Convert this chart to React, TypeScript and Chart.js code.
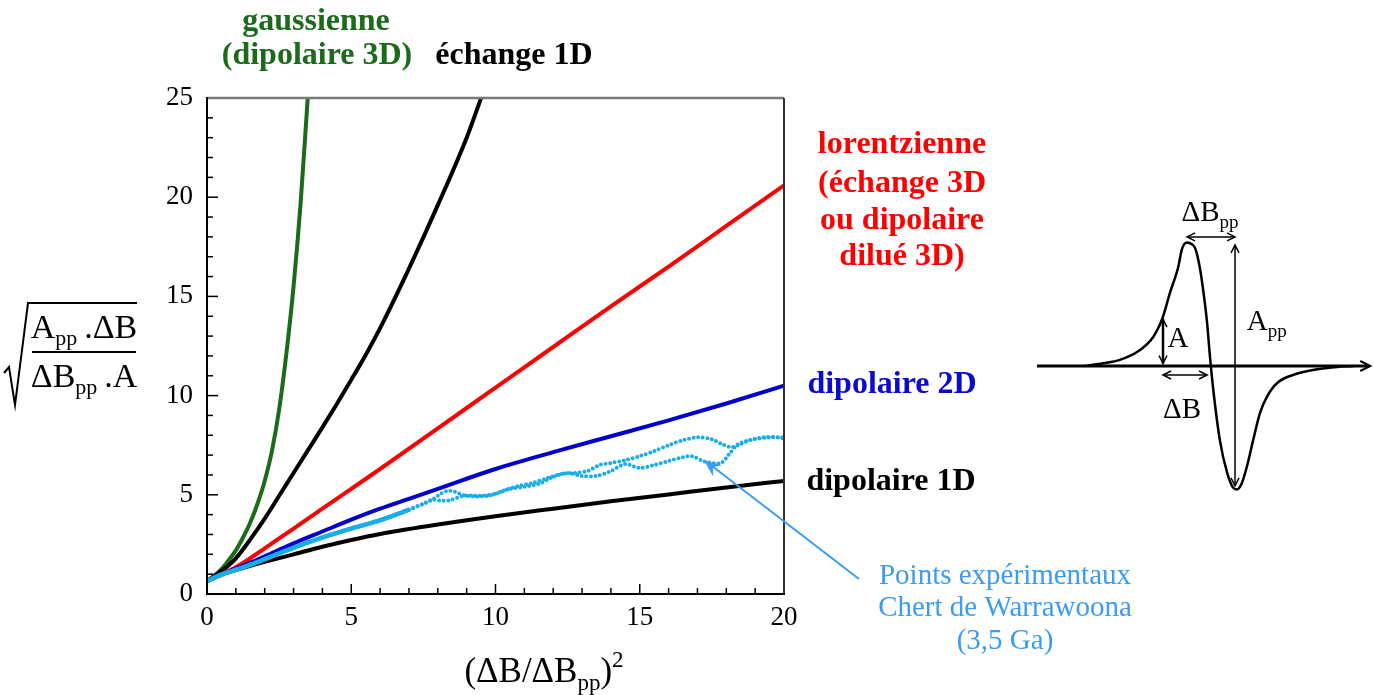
import React, { useEffect, useRef } from "react";
import { Chart, registerables } from "chart.js";
Chart.register(...registerables);

const SERIF = '"Liberation Serif", "Times New Roman", serif';

// ---------- main chart data ----------
const xTickValues = [0, 5, 10, 15, 20];
const yTickValues = [0, 5, 10, 15, 20, 25];

const gaussX = [0, 0.25, 0.5, 0.75, 1, 1.25, 1.5, 1.75, 2, 2.25, 2.5, 2.75, 3, 3.25, 3.5];
const gaussY = [0.65, 0.92, 1.25, 1.7, 2.2, 2.85, 3.6, 4.55, 5.7, 7.2, 9.3, 12.1, 15.5, 19.8, 25.2];

const exch1DX = [0, 0.5, 1, 1.5, 2, 2.5, 3, 3.5, 4, 4.5, 5, 5.5, 6, 7, 8, 9, 9.55];
const exch1DY = [0.65, 1.15, 1.8, 2.75, 3.8, 4.95, 6.1, 7.25, 8.4, 9.58, 10.8, 12.05, 13.4, 16.4, 19.6, 23.0, 25.2];

const lorentzX = [0, 0.5, 1, 1.5, 2, 3, 4, 5, 6, 8, 10, 12, 14, 16, 18, 20];
const lorentzY = [0.65, 1.0, 1.35, 1.8, 2.3, 3.3, 4.3, 5.3, 6.3, 8.35, 10.4, 12.45, 14.5, 16.5, 18.55, 20.6];

const dip2DX = [0, 0.5, 1, 1.5, 2, 3, 4, 5, 6, 7, 8, 10, 12, 14, 16, 18, 20];
const dip2DY = [0.65, 1.0, 1.28, 1.58, 1.9, 2.55, 3.15, 3.75, 4.3, 4.8, 5.3, 6.3, 7.15, 7.95, 8.75, 9.6, 10.5];

const dip1DX = [0, 0.5, 1, 1.5, 2, 3, 4, 5, 6, 8, 10, 12, 14, 16, 18, 20];
const dip1DY = [0.65, 0.97, 1.2, 1.42, 1.62, 2.0, 2.38, 2.72, 3.02, 3.5, 3.92, 4.3, 4.67, 5.02, 5.37, 5.7];

const expAX = [0, 0.5, 1, 1.5, 2, 2.5, 3, 3.5, 4, 4.5, 5, 5.5, 6, 6.5, 7, 7.5, 7.8, 8.1, 8.35, 8.6, 8.9, 9.3, 9.8, 10.3, 10.8, 11.3, 11.8, 12.3, 12.8, 13.2, 13.6, 14.0, 14.5, 15.0, 15.5, 16.0, 16.5, 17.0, 17.5, 17.85, 18.2, 18.5, 18.8, 19.3, 20.0];
const expAY = [0.65, 0.98, 1.22, 1.47, 1.75, 2.05, 2.33, 2.6, 2.85, 3.08, 3.3, 3.5, 3.72, 3.97, 4.25, 4.55, 4.75, 5.05, 5.2, 5.15, 4.98, 4.92, 4.97, 5.22, 5.45, 5.6, 5.85, 6.05, 6.1, 6.2, 6.5, 6.6, 6.75, 6.95, 7.2, 7.5, 7.75, 7.9, 7.8, 7.55, 7.4, 7.55, 7.75, 7.9, 7.9];

const expBX = [0, 0.5, 1, 1.5, 2, 2.5, 3, 3.5, 4, 4.5, 5, 5.5, 6, 6.5, 7, 7.5, 7.8, 8.1, 8.4, 8.9, 9.5, 10.0, 10.5, 11.0, 11.5, 12.0, 12.5, 13.0, 13.5, 14.0, 14.5, 15.0, 15.5, 16.0, 16.5, 16.8, 17.2, 17.8, 18.1, 18.4, 18.8, 19.2, 19.6, 20.0];
const expBY = [0.65, 0.98, 1.22, 1.47, 1.75, 2.05, 2.33, 2.6, 2.85, 3.08, 3.3, 3.5, 3.72, 3.97, 4.25, 4.55, 4.75, 4.7, 4.72, 4.95, 4.95, 5.05, 5.3, 5.4, 5.55, 5.9, 6.1, 5.95, 5.95, 6.2, 6.55, 6.35, 6.5, 6.7, 6.9, 6.95, 6.7, 6.6, 7.05, 7.55, 7.75, 7.85, 7.9, 7.85];

// ---------- schematic (EPR derivative line) data ----------
const schemB = [-2.6, -2.21, -1.87, -1.52, -1.19, -0.99, -0.85, -0.68, -0.6, -0.5, -0.4, -0.33, -0.24, -0.17, -0.09, -0.03, 0.03, 0.17, 0.32, 0.44, 0.52, 0.62, 0.72, 0.85, 0.99, 1.13, 1.34, 1.66, 2.07, 2.56, 2.9];
const schemS = [0, 0.022, 0.05, 0.113, 0.235, 0.4, 0.59, 0.8, 0.95, 1.0, 0.985, 0.95, 0.8, 0.615, 0.35, 0.07, -0.17, -0.6, -0.866, -0.985, -1.0, -0.947, -0.818, -0.6, -0.38, -0.25, -0.138, -0.073, -0.032, -0.008, 0];

const pts = (xs: number[], ys: number[]) => xs.map((x, i) => ({ x, y: ys[i] }));

type Part = [string, number];
function drawRich(ctx: CanvasRenderingContext2D, parts: Part[], x: number, y: number, size: number, weight: string, align: string) {
  const widths = parts.map(([t, k]) => {
    ctx.font = `${weight} ${k ? Math.round(size * 0.65) : size}px ${SERIF}`;
    return ctx.measureText(t).width;
  });
  const total = widths.reduce((a, b) => a + b, 0);
  let cx = align === "center" ? x - total / 2 : align === "right" ? x - total : x;
  ctx.textAlign = "left";
  ctx.textBaseline = "alphabetic";
  parts.forEach(([t, k], i) => {
    ctx.font = `${weight} ${k ? Math.round(size * 0.65) : size}px ${SERIF}`;
    const dy = k === 1 ? size * 0.22 : k === 2 ? -size * 0.42 : 0;
    ctx.fillText(t, cx, y + dy);
    cx += widths[i];
  });
}

function line(ctx: CanvasRenderingContext2D, x1: number, y1: number, x2: number, y2: number) {
  ctx.beginPath();
  ctx.moveTo(x1, y1);
  ctx.lineTo(x2, y2);
  ctx.stroke();
}

function openHead(ctx: CanvasRenderingContext2D, tx: number, ty: number, fx: number, fy: number, len: number, half: number) {
  const a = Math.atan2(ty - fy, tx - fx);
  const c = Math.cos(a), s = Math.sin(a);
  ctx.beginPath();
  ctx.moveTo(tx - len * c - half * s, ty - len * s + half * c);
  ctx.lineTo(tx, ty);
  ctx.lineTo(tx - len * c + half * s, ty - len * s - half * c);
  ctx.stroke();
}

function filledHead(ctx: CanvasRenderingContext2D, tx: number, ty: number, fx: number, fy: number, len: number, half: number) {
  const a = Math.atan2(ty - fy, tx - fx);
  const c = Math.cos(a), s = Math.sin(a);
  ctx.beginPath();
  ctx.moveTo(tx, ty);
  ctx.lineTo(tx - len * c - half * s, ty - len * s + half * c);
  ctx.lineTo(tx - len * 0.65 * c, ty - len * 0.65 * s);
  ctx.lineTo(tx - len * c + half * s, ty - len * s - half * c);
  ctx.closePath();
  ctx.fill();
}

const mainDecor = {
  id: "mainDecor",
  afterDatasetsDraw(chart: any) {
    const { ctx, chartArea: a, scales } = chart;
    const xs = scales.x, ys = scales.y;
    ctx.save();
    ctx.strokeStyle = "#000";
    ctx.lineWidth = 1.5;
    for (let v = 1; v < 20; v++) {
      const px = xs.getPixelForValue(v);
      line(ctx, px, a.bottom, px, a.bottom - (v % 5 === 0 ? 10 : 6));
    }
    for (let v = 1; v < 25; v++) {
      const py = ys.getPixelForValue(v);
      line(ctx, a.left, py, a.left + (v % 5 === 0 ? 11 : 6), py);
    }
    ctx.lineWidth = 2.5;
    ctx.strokeStyle = "#7a7a7a";
    line(ctx, a.left, a.top, a.right, a.top);
    ctx.lineWidth = 2;
    ctx.strokeStyle = "#333";
    line(ctx, a.right, a.top, a.right, a.bottom);
    ctx.strokeStyle = "#000";
    line(ctx, a.left, a.top - 1, a.left, a.bottom + 1);
    line(ctx, a.left, a.bottom, a.right + 1, a.bottom);
    ctx.restore();
  },
  afterDraw(chart: any) {
    const { ctx } = chart;
    ctx.save();
    // y axis title: sqrt( App.dB / dBpp.A )
    ctx.fillStyle = "#000";
    drawRich(ctx, [["A", 0], ["pp", 1], ["\u2009.ΔB", 0]], 84, 338, 34, "normal", "center");
    drawRich(ctx, [["ΔB", 0], ["pp", 1], ["\u2009.A", 0]], 84, 387, 34, "normal", "center");
    ctx.strokeStyle = "#000";
    ctx.lineWidth = 2;
    line(ctx, 32, 352, 136, 352);
    ctx.beginPath();
    ctx.moveTo(4, 373);
    ctx.lineTo(9, 367);
    ctx.lineTo(15, 405);
    ctx.lineTo(28, 303);
    ctx.lineTo(137, 303);
    ctx.stroke();
    // x axis title
    drawRich(ctx, [["(ΔB/ΔB", 0], ["pp", 1], [")", 0], ["2", 2]], 544, 682, 35, "normal", "center");

    // curve labels
    ctx.fillStyle = "#1a6b1a";
    drawRich(ctx, [["gaussienne", 0]], 316, 30, 32, "bold", "center");
    drawRich(ctx, [["(dipolaire 3D)", 0]], 317, 64, 32, "bold", "center");
    ctx.fillStyle = "#000";
    drawRich(ctx, [["échange 1D", 0]], 514, 64, 32, "bold", "center");
    ctx.fillStyle = "#ff0000";
    drawRich(ctx, [["lorentzienne", 0]], 902, 153, 32, "bold", "center");
    drawRich(ctx, [["(échange 3D", 0]], 902, 192, 32, "bold", "center");
    drawRich(ctx, [["ou dipolaire", 0]], 902, 229, 32, "bold", "center");
    drawRich(ctx, [["dilué 3D)", 0]], 902, 265, 32, "bold", "center");
    ctx.fillStyle = "#0a0ad0";
    drawRich(ctx, [["dipolaire 2D", 0]], 892, 393, 32, "bold", "center");
    ctx.fillStyle = "#000";
    drawRich(ctx, [["dipolaire 1D", 0]], 891, 490, 32, "bold", "center");

    // experimental points annotation
    const blueText = "#3a9cf2";
    ctx.fillStyle = blueText;
    drawRich(ctx, [["Points expérimentaux", 0]], 1005, 584, 29, "normal", "center");
    drawRich(ctx, [["Chert de Warrawoona", 0]], 1005, 616, 29, "normal", "center");
    drawRich(ctx, [["(3,5 Ga)", 0]], 1005, 649, 29, "normal", "center");
    ctx.strokeStyle = blueText;
    ctx.lineWidth = 2;
    line(ctx, 859, 579, 712, 466);
    filledHead(ctx, 704, 460.5, 859, 579, 17, 7);
    ctx.restore();
  },
};

// schematic annotation positions (schematic units: B in dBpp, S in half App)
const axisFrom = -3.56, axisTo = 3.24;
const schemDecor = {
  id: "schemDecor",
  beforeDatasetsDraw(chart: any) {
    const { ctx, scales } = chart;
    const X = (v: number) => scales.x.getPixelForValue(v);
    const Y = (v: number) => scales.y.getPixelForValue(v);
    ctx.save();
    ctx.strokeStyle = "#000";
    ctx.lineWidth = 3;
    line(ctx, X(axisFrom), Y(0), X(axisTo) - 2, Y(0));
    ctx.lineWidth = 2;
    openHead(ctx, X(axisTo), Y(0), X(axisFrom), Y(0), 10, 5);
    ctx.restore();
  },
  afterDatasetsDraw(chart: any) {
    const { ctx, scales } = chart;
    const X = (v: number) => scales.x.getPixelForValue(v);
    const Y = (v: number) => scales.y.getPixelForValue(v);
    ctx.save();
    ctx.strokeStyle = "#000";
    ctx.fillStyle = "#000";
    const dbl = (b1: number, s1: number, b2: number, s2: number, w: number) => {
      ctx.lineWidth = w;
      line(ctx, X(b1), Y(s1), X(b2), Y(s2));
      ctx.lineWidth = 1.5;
      openHead(ctx, X(b2), Y(s2), X(b1), Y(s1), 8, 4);
      openHead(ctx, X(b1), Y(s1), X(b2), Y(s2), 8, 4);
    };
    dbl(-0.99, 0.02, -0.99, 0.38, 2.5);
    dbl(-0.99, -0.073, -0.09, -0.073, 1.5);
    dbl(-0.5, 1.045, 0.48, 1.045, 1.5);
    dbl(0.48, 0.98, 0.48, -0.97, 1.5);
    drawRich(ctx, [["A", 0]], X(-0.9), Y(0.15), 29, "normal", "left");
    drawRich(ctx, [["ΔB", 0]], X(-0.6), Y(-0.42), 29, "normal", "center");
    drawRich(ctx, [["ΔB", 0], ["pp", 1]], X(-0.03), Y(1.17), 29, "normal", "center");
    drawRich(ctx, [["A", 0], ["pp", 1]], X(0.72), Y(0.29), 29, "normal", "left");
    ctx.restore();
  },
};

export default function App() {
  const mainRef = useRef<HTMLCanvasElement>(null);
  const schemRef = useRef<HTMLCanvasElement>(null);

  useEffect(() => {
    document.body.style.margin = "0";
    document.body.style.background = "#fff";
    const lineDs = (label: string, xs: number[], ys: number[], color: string, width: number) => ({
      label,
      data: pts(xs, ys),
      showLine: true,
      borderColor: color,
      backgroundColor: color,
      borderWidth: width,
      pointRadius: 0,
      cubicInterpolationMode: "monotone" as const,
      borderCapStyle: "round" as const,
    });
    const dotDs = (label: string, xs: number[], ys: number[]) => ({
      label,
      data: pts(xs, ys),
      showLine: true,
      borderColor: "#1aaee8",
      backgroundColor: "#1aaee8",
      borderWidth: 4,
      borderDash: [0, 4.6],
      borderCapStyle: "round" as const,
      pointRadius: 0,
      tension: 0.3,
      segment: {
        borderDash: (c: any) => (c.p0.parsed.x < 7 ? [0, 2.2] : [0, 4.6]),
        borderWidth: (c: any) => (c.p0.parsed.x < 7 ? 4.5 : 4),
      },
    });
    const main = new Chart(mainRef.current!, {
      type: "scatter",
      data: {
        datasets: [
          dotDs("Points expérimentaux A", expAX, expAY),
          dotDs("Points expérimentaux B", expBX, expBY),
          lineDs("dipolaire 1D", dip1DX, dip1DY, "#000000", 4),
          lineDs("dipolaire 2D", dip2DX, dip2DY, "#0000cc", 4),
          lineDs("lorentzienne", lorentzX, lorentzY, "#ff0000", 4),
          lineDs("échange 1D", exch1DX, exch1DY, "#000000", 4),
          lineDs("gaussienne", gaussX, gaussY, "#1a6b1a", 4),
        ],
      },
      options: {
        animation: false,
        responsive: false,
        maintainAspectRatio: false,
        devicePixelRatio: 1,
        layout: { padding: { left: 147, right: 590, top: 98, bottom: 61 } },
        plugins: { legend: { display: false }, tooltip: { enabled: false } },
        scales: {
          x: {
            type: "linear",
            min: 0,
            max: 20,
            afterBuildTicks: (s: any) => { s.ticks = xTickValues.map((v) => ({ value: v })); },
            afterFit: (s: any) => { s.height = 40; },
            grid: { display: false, drawTicks: false },
            border: { display: false },
            ticks: { color: "#000", padding: 8, maxRotation: 0, autoSkip: false, font: { family: SERIF, size: 27 } },
          },
          y: {
            type: "linear",
            min: 0,
            max: 25,
            afterBuildTicks: (s: any) => { s.ticks = yTickValues.map((v) => ({ value: v })); },
            afterFit: (s: any) => { s.width = 60; },
            grid: { display: false, drawTicks: false },
            border: { display: false },
            ticks: { color: "#000", padding: 14, autoSkip: false, font: { family: SERIF, size: 27 } },
          },
        },
      },
      plugins: [mainDecor],
    });

    const schem = new Chart(schemRef.current!, {
      type: "scatter",
      data: {
        datasets: [
          {
            label: "dérivée RPE",
            data: pts(schemB, schemS),
            showLine: true,
            borderColor: "#000",
            borderWidth: 2.5,
            pointRadius: 0,
            cubicInterpolationMode: "monotone",
          },
        ],
      },
      options: {
        animation: false,
        responsive: false,
        maintainAspectRatio: false,
        devicePixelRatio: 1,
        layout: { padding: 0 },
        plugins: { legend: { display: false }, tooltip: { enabled: false } },
        scales: {
          x: { type: "linear", display: false, min: -3.704, max: 3.316 },
          y: { type: "linear", display: false, min: -1.166, max: 1.425 },
        },
      },
      plugins: [schemDecor],
    });
    return () => {
      main.destroy();
      schem.destroy();
    };
  }, []);

  return (
    <div style={{ position: "absolute", left: 0, top: 0, width: 1374, height: 695, background: "#fff", overflow: "hidden" }}>
      <canvas ref={mainRef} width={1374} height={695} style={{ position: "absolute", left: 0, top: 0 }} />
      <canvas ref={schemRef} width={344} height={320} style={{ position: "absolute", left: 1030, top: 190 }} />
    </div>
  );
}
